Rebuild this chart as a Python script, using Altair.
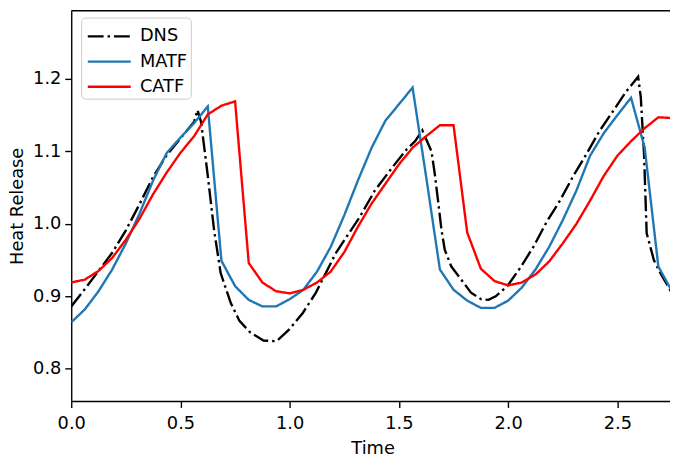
import altair as alt
import pandas as pd

# ---- data ----
dns_t = [0.0, 0.0625, 0.125, 0.1875, 0.25, 0.3125, 0.375, 0.4375, 0.5, 0.5625,
         0.578, 0.594, 0.624, 0.654, 0.684, 0.73, 0.77, 0.82, 0.88, 0.94,
         1.0, 1.06, 1.12, 1.17, 1.21, 1.26, 1.32, 1.39, 1.47, 1.536,
         1.574, 1.607, 1.649, 1.664, 1.679, 1.695, 1.71, 1.74, 1.785, 1.83,
         1.876, 1.91, 1.943, 1.996, 2.057, 2.117, 2.177, 2.237, 2.298, 2.358,
         2.418, 2.479, 2.539, 2.595, 2.607, 2.622, 2.634, 2.667, 2.697, 2.735, 2.75]
dns_hr = [0.886, 0.910, 0.935, 0.960, 0.991, 1.027, 1.065, 1.095, 1.118, 1.141,
          1.157, 1.141, 1.069, 0.991, 0.932, 0.891, 0.866, 0.850, 0.839, 0.838,
          0.855, 0.877, 0.905, 0.935, 0.959, 0.982, 1.009, 1.046, 1.078, 1.103,
          1.114, 1.129, 1.100, 1.069, 1.032, 0.991, 0.964, 0.941, 0.923, 0.905,
          0.896, 0.895, 0.900, 0.914, 0.940, 0.969, 1.003, 1.032, 1.066, 1.096,
          1.128, 1.155, 1.182, 1.203, 1.175, 1.096, 0.987, 0.950, 0.932, 0.912, 0.904]

model_t = [0.0, 0.0625, 0.125, 0.1875, 0.25, 0.3125, 0.375, 0.4375, 0.5, 0.5625,
           0.625, 0.6875, 0.75, 0.8125, 0.875, 0.9375, 1.0, 1.0625, 1.125, 1.1875,
           1.25, 1.3125, 1.375, 1.4375, 1.5, 1.5625, 1.625, 1.6875, 1.75, 1.8125,
           1.875, 1.9375, 2.0, 2.0625, 2.125, 2.1875, 2.25, 2.3125, 2.375, 2.4375,
           2.5, 2.5625, 2.625, 2.6875, 2.75]
matf_hr = [0.864, 0.882, 0.907, 0.937, 0.973, 1.014, 1.060, 1.098, 1.119, 1.139,
           1.162, 0.949, 0.914, 0.895, 0.886, 0.886, 0.896, 0.909, 0.934, 0.968,
           1.012, 1.060, 1.105, 1.142, 1.165, 1.188, 1.064, 0.937, 0.909, 0.894,
           0.884, 0.884, 0.894, 0.912, 0.937, 0.968, 1.005, 1.046, 1.094, 1.125,
           1.150, 1.174, 1.105, 0.941, 0.907]
catf_hr = [0.919, 0.923, 0.935, 0.953, 0.978, 1.007, 1.041, 1.071, 1.098, 1.121,
           1.151, 1.163, 1.169, 0.946, 0.919, 0.907, 0.904, 0.909, 0.919, 0.934,
           0.961, 0.996, 1.028, 1.055, 1.082, 1.105, 1.121, 1.136, 1.136, 0.988,
           0.938, 0.921, 0.915, 0.919, 0.930, 0.948, 0.973, 1.000, 1.032, 1.066,
           1.094, 1.114, 1.132, 1.147, 1.146]

series_order = ["DNS", "MATF", "CATF"]
series_colors = ["#000000", "#1f77b4", "#ff0000"]
series_dash = [[16, 4, 2.5, 4], [1, 0], [1, 0]]
x_ticks = [0.0, 0.5, 1.0, 1.5, 2.0, 2.5]
y_ticks = [0.8, 0.9, 1.0, 1.1, 1.2]

df = pd.concat([
    pd.DataFrame({"t": dns_t, "hr": dns_hr, "series": "DNS"}),
    pd.DataFrame({"t": model_t, "hr": matf_hr, "series": "MATF"}),
    pd.DataFrame({"t": model_t, "hr": catf_hr, "series": "CATF"}),
], ignore_index=True)

W, H = 606, 395
FONT = "DejaVu Sans"
FS = 18

legend = alt.Legend(
    title=None, orient="none", legendX=10, legendY=7,
    symbolType="M-1.5,0H1.5", symbolSize=840, symbolStrokeWidth=2.4,
    symbolOffset=9.5, labelOffset=15, padding=3, rowPadding=0.5,
    labelFont=FONT, labelFontSize=FS, labelColor="black",
    fillColor="white", strokeColor="#cccccc", cornerRadius=4,
)

lines = alt.Chart(df).mark_line(strokeWidth=2.4, clip=True).encode(
    x=alt.X("t:Q",
            scale=alt.Scale(domain=[0, 2.7408], nice=False, zero=False),
            axis=alt.Axis(values=x_ticks, format=".1f", title="Time",
                          labelFlush=False, labelPadding=7,
                          titleX=305, titleY=53.5, titleBaseline="alphabetic")),
    y=alt.Y("hr:Q",
            scale=alt.Scale(domain=[0.7555, 1.2941], nice=False, zero=False),
            axis=alt.Axis(values=y_ticks, format=".1f", title="Heat Release",
                          labelFlush=False, labelPadding=4,
                          titleAngle=270, titleX=-49, titleY=H / 2,
                          titleAlign="center", titleBaseline="alphabetic")),
    color=alt.Color("series:N",
                    scale=alt.Scale(domain=series_order, range=series_colors),
                    legend=legend),
    strokeDash=alt.StrokeDash("series:N",
                              scale=alt.Scale(domain=series_order, range=series_dash),
                              legend=legend),
)

top_spine = alt.Chart(pd.DataFrame({"a": [0]})).mark_rule(
    color="black", strokeWidth=1.4
).encode(x=alt.value(0), x2=alt.value(W), y=alt.value(0))

chart = alt.layer(lines, top_spine).properties(
    width=W, height=H,
    autosize=alt.AutoSizeParams(type="none"),
    padding={"left": 64, "top": 0, "right": 0, "bottom": 58},
).configure_view(stroke=None).configure_axis(
    grid=False, domainColor="black", domainWidth=1.4,
    tickColor="black", tickWidth=1.4, tickSize=6.5,
    labelFont=FONT, labelFontSize=FS, labelColor="black",
    titleFont=FONT, titleFontSize=FS, titleFontWeight="normal", titleColor="black",
)

chart.save("out.html", embed_options={"renderer": "svg", "actions": False})
